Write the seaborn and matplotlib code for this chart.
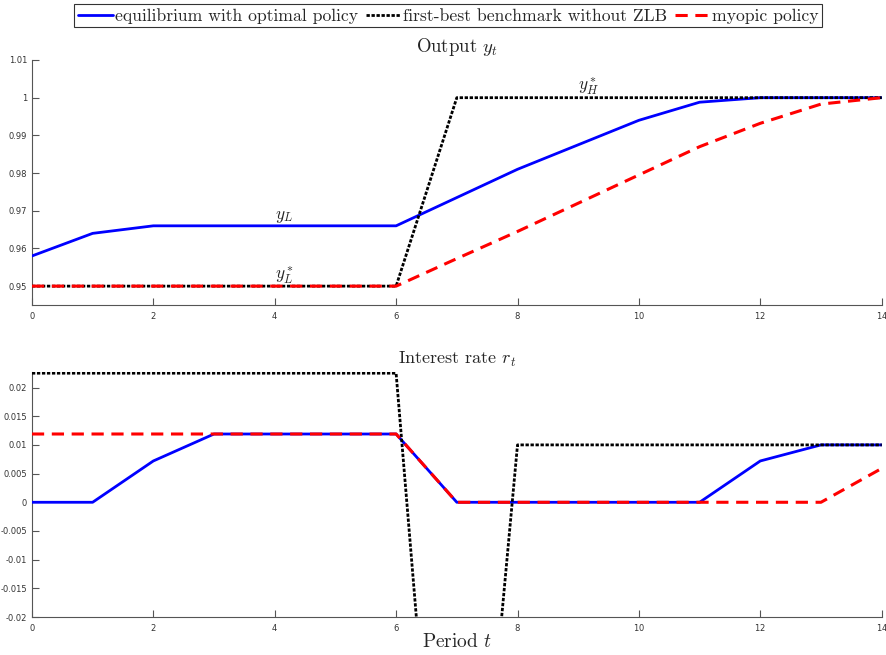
import numpy as np
import pandas as pd
import matplotlib
matplotlib.use("Agg")
import matplotlib.pyplot as plt
import seaborn as sns
from matplotlib.ticker import FormatStrFormatter

periods = list(range(15))

# output y_t
y_optimal = [0.958, 0.964, 0.966, 0.966, 0.966, 0.966, 0.966, 0.9735,
             0.981, 0.9875, 0.994, 0.9988, 1.0, 1.0, 1.0]
y_firstbest = [0.95, 0.95, 0.95, 0.95, 0.95, 0.95, 0.95, 1.0,
               1.0, 1.0, 1.0, 1.0, 1.0, 1.0, 1.0]
y_myopic = [0.95, 0.95, 0.95, 0.95, 0.95, 0.95, 0.95, 0.9573,
            0.9645, 0.972, 0.9795, 0.987, 0.9932, 0.9983, 1.0]

# interest rate r_t
r_optimal = [0.0, 0.0, 0.0072, 0.0119, 0.0119, 0.0119, 0.0119, 0.0,
             0.0, 0.0, 0.0, 0.0, 0.0072, 0.01, 0.01]
r_firstbest = [0.0225, 0.0225, 0.0225, 0.0225, 0.0225, 0.0225, 0.0225, -0.105,
               0.01, 0.01, 0.01, 0.01, 0.01, 0.01, 0.01]
r_myopic = [0.0119, 0.0119, 0.0119, 0.0119, 0.0119, 0.0119, 0.0119, 0.0,
            0.0, 0.0, 0.0, 0.0, 0.0, 0.0, 0.0059]

labels = ["equilibrium with optimal policy",
          "first-best benchmark without ZLB",
          "myopic policy"]

sns.set_style("ticks")
plt.rcParams["font.family"] = ["cmr10", "DejaVu Serif"]
plt.rcParams["mathtext.fontset"] = "cm"
plt.rcParams["axes.unicode_minus"] = False
plt.rcParams["axes.formatter.use_mathtext"] = True

fig = plt.figure(figsize=(8.87, 6.55), dpi=100)
ax1 = fig.add_axes([0.036, 0.5344, 0.958, 0.374])
ax2 = fig.add_axes([0.036, 0.058, 0.958, 0.374])

styles = [
    dict(color="#0000ff", linestyle="-", linewidth=2.0, zorder=3),
    dict(color="black", linestyle=(0, (1.2, 0.6)), linewidth=2.0, zorder=4),
    dict(color="#ff0000", linestyle=(0, (4, 2.5)), linewidth=2.2, zorder=5),
]

for ax, series in [(ax1, [y_optimal, y_firstbest, y_myopic]),
                   (ax2, [r_optimal, r_firstbest, r_myopic])]:
    for vals, lab, st in zip(series, labels, styles):
        sns.lineplot(x=periods, y=vals, ax=ax, label=lab, **st)
    ax.get_legend().remove()
    ax.set_xlim(0, 14)
    ax.set_xticks(range(0, 15, 2))
    sns.despine(ax=ax)
    for sp in ["left", "bottom"]:
        ax.spines[sp].set_color("#555555")
        ax.spines[sp].set_linewidth(0.8)
    ax.tick_params(direction="in", length=5, width=0.8, color="#555555",
                   labelsize=6, labelcolor="#333333")
    ax.yaxis.set_major_formatter(FormatStrFormatter("%g"))

ax1.set_ylim(0.945, 1.01)
ax1.set_yticks([0.95, 0.96, 0.97, 0.98, 0.99, 1.0, 1.01])
ax1.set_title(r"Output $y_t$", fontsize=13.5, pad=6)
ax1.text(4, 0.9662, r"$y_L$", fontsize=12.5, ha="left", va="bottom")
ax1.text(4, 0.9501, r"$y_L^*$", fontsize=12.5, ha="left", va="bottom")
ax1.text(9, 1.0002, r"$y_H^*$", fontsize=12.5, ha="left", va="bottom")

ax2.set_ylim(-0.02, 0.0227)
ax2.set_yticks([-0.02, -0.015, -0.01, -0.005, 0, 0.005, 0.01, 0.015, 0.02])
ax2.set_title(r"Interest rate $r_t$", fontsize=13, pad=6)
ax2.set_xlabel(r"Period $t$", fontsize=14, labelpad=0)

for ax in (ax1, ax2):
    for t in ax.get_xticklabels() + ax.get_yticklabels():
        t.set_family("DejaVu Sans")

handles, labs = ax1.get_legend_handles_labels()
leg = fig.legend(handles, labs, loc="upper center", bbox_to_anchor=(0.505, 1.0),
                 ncol=3, fontsize=12.7, frameon=True, fancybox=False,
                 edgecolor="black", handlelength=2.0, columnspacing=0.45,
                 handletextpad=0.1, borderpad=0.2, borderaxespad=0.25)
leg.get_frame().set_linewidth(0.8)

fig.savefig("out.png", dpi=100)
